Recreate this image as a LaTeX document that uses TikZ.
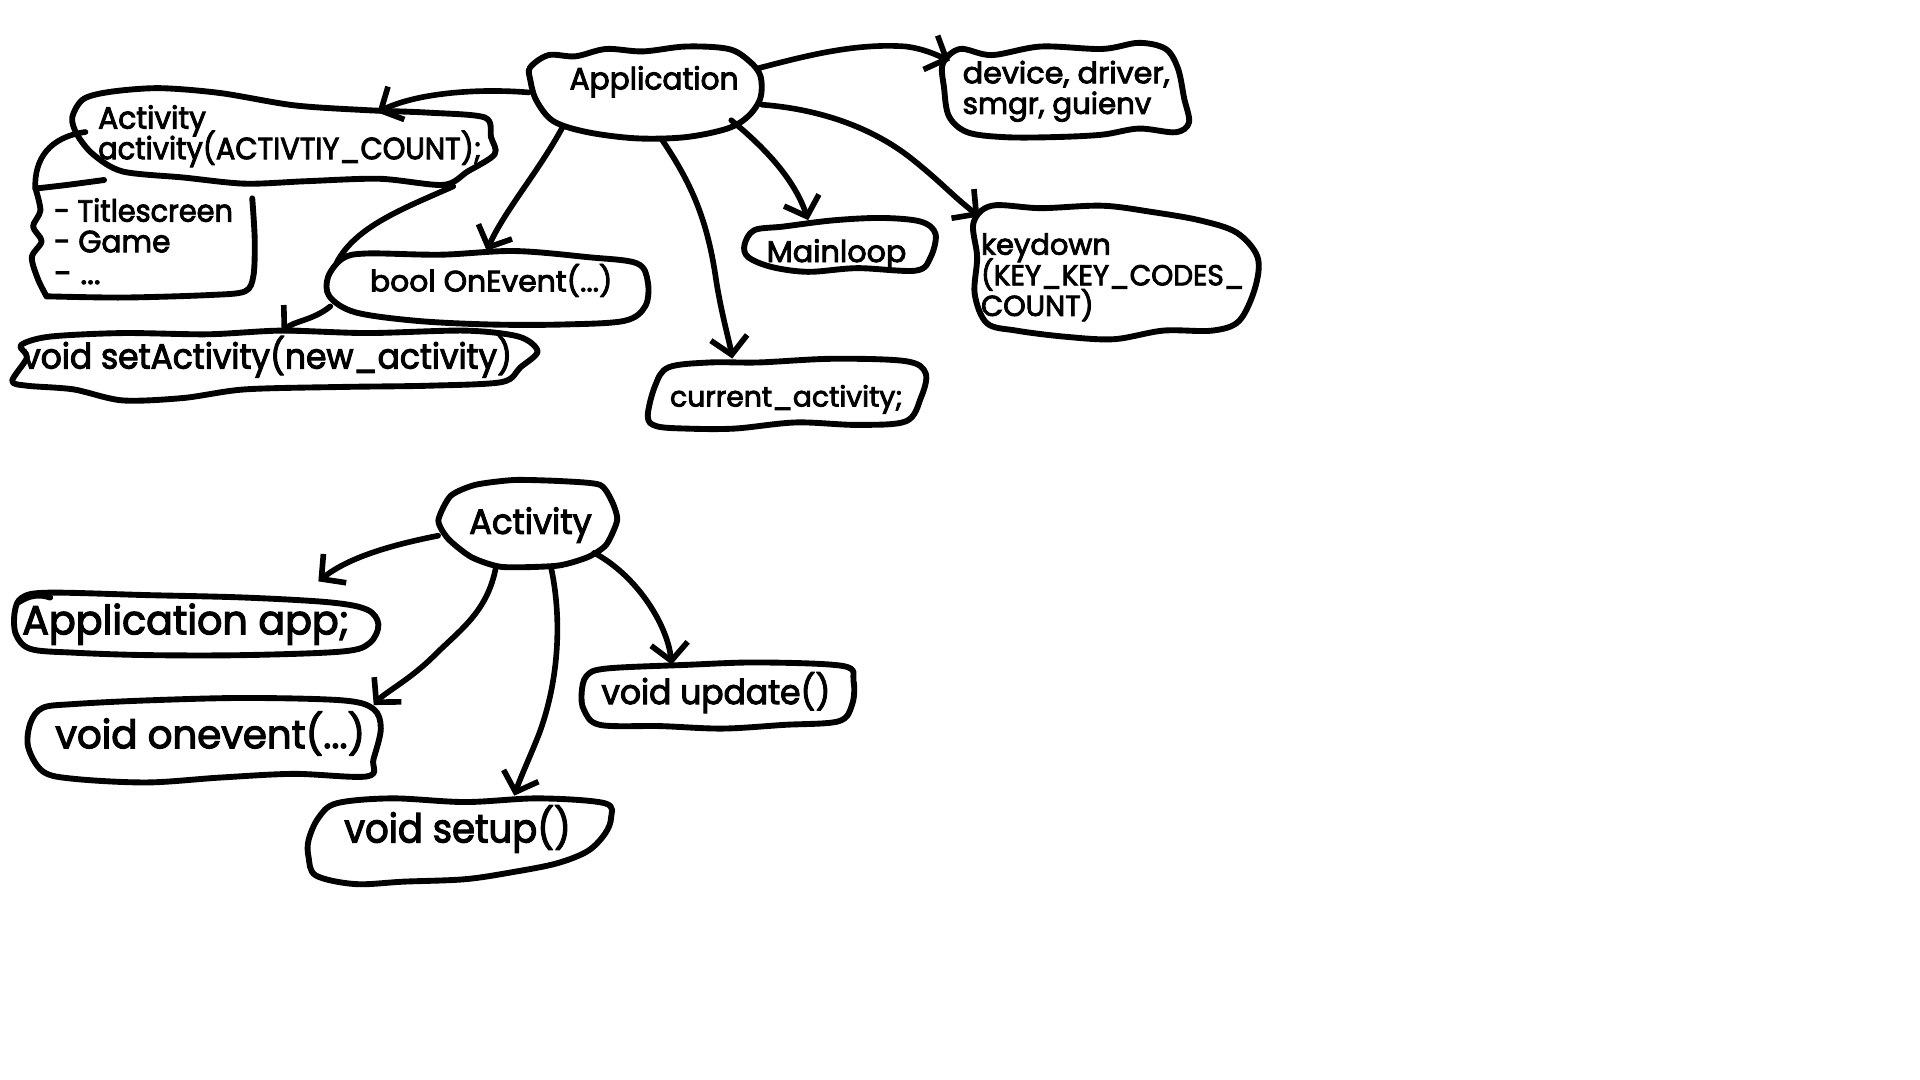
\documentclass[tikz,border=0pt]{standalone}
\usepackage{fontspec}
\setmainfont{Poppins}[FakeBold=3]
\usepackage{graphicx}
\usetikzlibrary{arrows.meta,fit}
\newcommand{\myfs}[1]{\fontsize{#1}{#1}\selectfont}
\newcommand{\tw}[3]{\resizebox{#1pt}{\height}{\myfs{#2}#3}}
\tikzset{
  blob/.style={line width=4.8pt, line cap=round, line join=round},
  box/.style={inner sep=0pt, draw=none},
  txt/.style={inner sep=0pt, anchor=base west},
  con/.style={line width=4.6pt, line cap=round, line join=round},
  arr/.style={con, -{Straight Barb[length=14pt,width=30pt]}}
}
\begin{document}
\begin{tikzpicture}[x=1pt,y=-1pt]
\useasboundingbox[fill=white] (0,0) rectangle (1568,882);

% ---------- blob boxes (named) ----------
\node[box, fit={(432,38) (622,113)}] (app) {};
\node[box, fit={(770,32) (972,115)}] (dev) {};
\node[box, fit={(58,72) (405,152)}] (act) {};
\node[box, fit={(25,148) (210,245)}] (tit) {};
\node[box, fit={(265,205) (530,265)}] (onev) {};
\node[box, fit={(8,270) (440,327)}] (seta) {};
\node[box, fit={(528,293) (758,352)}] (cur) {};
\node[box, fit={(607,177) (765,222)}] (mainl) {};
\node[box, fit={(793,165) (1028,278)}] (key) {};
\node[box, fit={(357,392) (505,463)}] (acttwo) {};
\node[box, fit={(10,482) (310,537)}] (appapp) {};
\node[box, fit={(22,567) (312,640)}] (onevt) {};
\node[box, fit={(250,650) (500,725)}] (setup) {};
\node[box, fit={(473,540) (700,597)}] (upd) {};

% ---------- outlines ----------
\draw[blob] plot[smooth cycle, tension=0.55] coordinates {(433,55) (448,45) (470,46) (495,40) (525,42) (560,38) (595,40) (612,50) (621,62) (621,80) (611,95) (594,105) (560,112) (520,113) (480,108) (452,99) (438,82) (433,65)};
\draw[blob] plot[smooth cycle, tension=0.55] coordinates {(770,52) (784,40) (810,45) (850,38) (900,40) (930,35) (952,40) (962,56) (967,80) (971,100) (960,108) (930,105) (900,110) (860,112) (820,112) (790,108) (775,95) (771,72)};
\draw[blob] plot[smooth cycle, tension=0.5] coordinates {(59,96) (68,81) (90,75) (130,72) (180,76) (240,86) (300,90) (350,92) (396,96) (401,112) (404,126) (382,140) (362,151) (310,146) (250,148) (200,150) (150,145) (100,140) (76,126) (63,110)};
\draw[blob] plot[smooth, tension=0.5] coordinates {(85,147) (55,151) (29,154)};
\draw[blob] plot[smooth, tension=0.5] coordinates {(29,154) (33,172) (27,185) (34,197) (26,210) (31,228) (38,242)};
\draw[blob] plot[smooth, tension=0.5] coordinates {(38,242) (100,243) (170,241) (200,238) (207,225) (208,195) (206,162)};
\draw[blob] plot[smooth cycle, tension=0.55] coordinates {(268,226) (280,211) (300,207) (360,208) (420,205) (480,210) (520,215) (529,230) (527,250) (510,262) (460,265) (400,265) (340,262) (290,255) (269,242)};
\draw[blob] plot[smooth cycle, tension=0.5] coordinates {(10,311) (22,292) (17,282) (40,275) (100,272) (170,273) (230,270) (300,272) (380,270) (424,275) (439,287) (425,300) (410,312) (350,315) (280,316) (200,318) (150,325) (100,327) (60,318) (22,315)};
\draw[blob] plot[smooth cycle, tension=0.55] coordinates {(529,340) (535,315) (546,300) (580,296) (620,296) (680,293) (740,295) (756,305) (752,325) (740,344) (700,347) (650,345) (600,350) (560,350) (536,348)};
\draw[blob] plot[smooth cycle, tension=0.55] coordinates {(608,200) (616,188) (640,185) (680,180) (720,178) (752,181) (764,191) (760,210) (748,221) (700,219) (660,222) (630,218) (611,210)};
\draw[blob] plot[smooth cycle, tension=0.55] coordinates {(795,182) (810,168) (850,170) (900,168) (940,173) (980,180) (1010,190) (1027,210) (1025,235) (1012,262) (990,270) (950,270) (910,277) (870,275) (830,270) (806,264) (796,240) (798,210)};
\draw[blob] plot[smooth cycle, tension=0.4] coordinates {(358,425) (368,405) (388,396) (420,392) (460,393) (490,396) (500,410) (504,425) (495,445) (480,455) (455,462) (410,463) (385,455) (366,440)};
\draw[blob] plot[smooth cycle, tension=0.55] coordinates {(12,500) (18,488) (40,484) (120,486) (200,488) (270,492) (300,498) (309,510) (302,525) (280,532) (200,535) (120,535) (60,533) (25,530) (13,518)};
\draw[blob] (15,492) .. controls (24,486) and (32,485) .. (41,488);
\draw[blob] plot[smooth cycle, tension=0.55] coordinates {(25,590) (35,578) (60,575) (120,572) (200,570) (280,572) (305,579) (311,595) (305,620) (300,634) (240,632) (180,635) (120,639) (60,636) (35,630) (23,610)};
\draw[blob] plot[smooth cycle, tension=0.55] coordinates {(252,686) (260,668) (275,656) (320,652) (380,655) (440,652) (494,656) (499,668) (494,681) (480,695) (455,705) (420,712) (380,718) (330,720) (290,722) (258,715) (252,700)};
\draw[blob] plot[smooth cycle, tension=0.55] coordinates {(475,566) (479,552) (495,546) (560,543) (620,541) (689,544) (697,556) (696,575) (685,589) (640,592) (590,595) (540,593) (490,592) (477,580)};

% ---------- texts ----------
\node[txt] (tApp) at (465,73) {\tw{138}{25}{Application}};
\node[txt] (tDevA) at (786,68) {\tw{169}{24}{device, driver,}};
\node[txt] (tDevB) at (786,93) {\tw{154}{24}{smgr, guienv}};
\node[txt] (tActA) at (80,105) {\tw{88}{25}{Activity}};
\node[txt] (tActB) at (80,130) {\tw{313}{25}{activity(ACTIVTIY\_COUNT);}};
\node[txt] (tTitA) at (44,181) {\tw{146}{25}{- Titlescreen}};
\node[txt] (tTitB) at (44,206) {\tw{95}{25}{- Game}};
\node[txt] (tTitC) at (44,232) {\tw{38}{25}{- ...}};
\node[txt] (tOnev) at (302,238) {\tw{198}{24}{bool OnEvent(...)}};
\node[txt] (tSeta) at (18,301) {\tw{400}{28.5}{void setActivity(new\_activity)}};
\node[txt] (tCur) at (547,332) {\tw{190}{23}{current\_activity;}};
\node[txt] (tMain) at (626,214) {\tw{114}{24.5}{Mainloop}};
\node[txt] (tKeyA) at (801,208) {\tw{106}{23.5}{keydown}};
\node[txt] (tKeyB) at (801,233) {\tw{215}{23.5}{(KEY\_KEY\_CODES\_}};
\node[txt] (tKeyC) at (801,258) {\tw{92}{23.5}{COUNT)}};
\node[txt] (tAct2) at (383,436) {\tw{100}{28.5}{Activity}};
\node[txt] (tAppApp) at (18,518) {\tw{267}{33}{Application app;}};
\node[txt] (tOnevt) at (45,611) {\tw{253}{32}{void onevent(...)}};
\node[txt] (tSetup) at (281,688) {\tw{185}{32.5}{void setup()}};
\node[txt] (tUpd) at (491,575) {\tw{187}{28}{void update()}};

% ---------- connectors ----------
\draw[arr] (app.west) .. controls (390,72) and (340,76) .. ([shift={(-97,20)}]act.north east);
\draw[arr] ([shift={(28,-10)}]app.south west) .. controls (440,140) and (412,172) .. (onev.north);
\draw[con] ([shift={(-35,0)}]act.south east) .. controls (330,170) and (290,185) .. ([shift={(10,10)}]onev.north west);
\draw[arr] ([shift={(5,-15)}]onev.south west) .. controls (255,262) and (240,262) .. ([shift={(6,2)}]seta.north);
\draw[con] ([shift={(12,36)}]act.north west) .. controls (40,112) and (28,130) .. ([shift={(4,6)}]tit.north west);
\draw[arr] ([shift={(13,0)}]app.south) .. controls (565,150) and (578,180) .. (585,230) .. controls (590,260) and (596,280) .. ([shift={(-45,0)}]cur.north);
\draw[arr] ([shift={(-25,-15)}]app.south east) .. controls (630,125) and (650,150) .. ([shift={(-26,3)}]mainl.north);
\draw[arr] ([shift={(0,10)}]app.east) .. controls (680,90) and (720,110) .. (745,130) .. controls (770,150) and (778,160) .. ([shift={(7,12)}]key.north west);
\draw[arr] ([shift={(-2,-20)}]app.east) .. controls (660,45) and (700,35) .. (740,38) .. controls (755,40) and (765,45) .. ([shift={(6,-24)}]dev.west);

\draw[arr] ([shift={(1,10)}]acttwo.west) .. controls (320,445) and (285,455) .. ([shift={(100,-7)}]appapp.north);
\draw[arr] ([shift={(-26,0)}]acttwo.south) .. controls (398,500) and (375,515) .. (355,535) .. controls (335,555) and (315,565) .. ([shift={(-7,9)}]onevt.north east);
\draw[arr] ([shift={(19,0)}]acttwo.south) .. controls (460,510) and (455,560) .. (440,600) .. controls (432,620) and (425,635) .. ([shift={(45,0)}]setup.north);
\draw[arr] ([shift={(-20,24)}]acttwo.east) .. controls (520,470) and (545,510) .. ([shift={(-38,3)}]upd.north);
\end{tikzpicture}
\end{document}
